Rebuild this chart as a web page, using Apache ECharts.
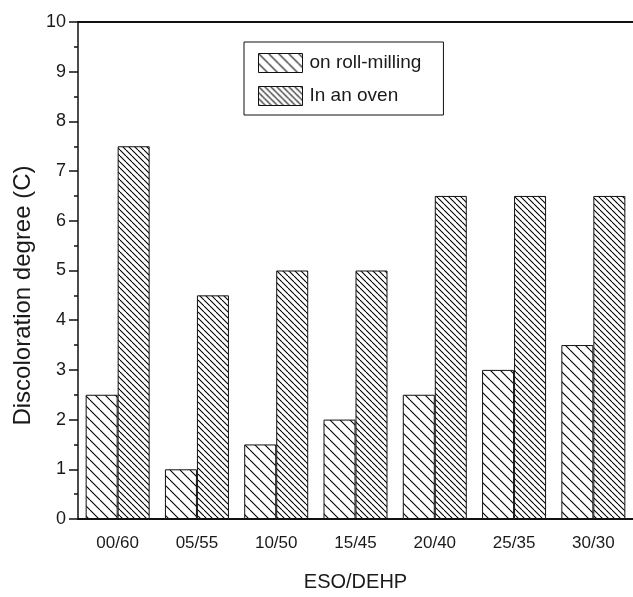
<!DOCTYPE html>
<html>
<head>
<meta charset="utf-8">
<script src="https://cdn.jsdelivr.net/npm/echarts@6/dist/echarts.min.js"></script>
<style>
  html, body { margin: 0; padding: 0; background: #fff; }
  #chart { width: 633px; height: 597px; }
</style>
</head>
<body>
<div id="chart"></div>
<script>
// ESO/DEHP ratios and discoloration degree for the two processing methods
const categories = ['00/60', '05/55', '10/50', '15/45', '20/40', '25/35', '30/30'];
const rollMilling = [2.5, 1, 1.5, 2, 2.5, 3, 3.5];
const inOven = [7.5, 4.5, 5, 5, 6.5, 6.5, 6.5];
const seriesNames = ['on roll-milling', 'In an oven'];

// Diagonal "\" hatch tile used as a repeating fill
function hatch(w, h) {
  const c = document.createElement('canvas');
  c.width = w; c.height = h;
  const g = c.getContext('2d');
  g.fillStyle = '#fff';
  g.fillRect(0, 0, w, h);
  g.strokeStyle = '#000';
  g.lineWidth = 1.1;
  for (let k = -1; k <= 1; k++) {
    g.beginPath();
    g.moveTo(k * w, 0);
    g.lineTo(k * w + w, h);
    g.stroke();
  }
  return c;
}

const font = '"Liberation Sans", Arial, Helvetica, sans-serif';
const ink = '#1a1a1a';

const chart = echarts.init(document.getElementById('chart'), null, { renderer: 'canvas' });
chart.setOption({
  backgroundColor: '#fff',
  animation: false,
  textStyle: { fontFamily: font, color: ink },
  grid: { left: 78, top: 22, bottom: 74, width: 560, containLabel: false },
  legend: {
    orient: 'vertical',
    left: 244,
    top: 42,
    data: seriesNames,
    icon: 'rect',
    itemWidth: 44,
    itemHeight: 19,
    itemGap: 13,
    padding: [11, 22, 9, 14],
    borderColor: '#111',
    borderWidth: 1,
    itemStyle: { borderColor: '#111', borderWidth: 1 },
    textStyle: { fontFamily: font, fontSize: 19, color: ink, padding: [0, 0, 0, 2] }
  },
  xAxis: [
    {
      type: 'category',
      data: categories,
      position: 'bottom',
      axisLine: { lineStyle: { color: '#111', width: 2 } },
      axisTick: { alignWithLabel: true, length: 11, lineStyle: { color: '#111', width: 1.5 } },
      axisLabel: { fontFamily: font, fontSize: 17, color: ink, margin: 16 },
      name: 'ESO/DEHP',
      nameLocation: 'middle',
      nameGap: 53,
      nameTextStyle: { fontFamily: font, fontSize: 20, color: ink }
    },
    {
      type: 'category',
      data: categories,
      position: 'top',
      axisLine: { lineStyle: { color: '#111', width: 2 } },
      axisTick: { show: false },
      axisLabel: { show: false }
    }
  ],
  yAxis: {
    type: 'value',
    min: 0,
    max: 10,
    interval: 1,
    axisLine: { show: true, lineStyle: { color: '#111', width: 1.5 } },
    axisTick: { show: true, length: 9, lineStyle: { color: '#111', width: 1.5 } },
    minorTick: { show: true, splitNumber: 2, length: 4, lineStyle: { color: '#111', width: 1.5 } },
    splitLine: { show: false },
    axisLabel: { fontFamily: font, fontSize: 18, color: ink, margin: 12 },
    name: 'Discoloration degree (C)',
    nameLocation: 'middle',
    nameGap: 42,
    nameTextStyle: { fontFamily: font, fontSize: 24, color: ink, padding: [0, 50, 0, 0] }
  },
  series: [
    {
      name: seriesNames[0],
      type: 'bar',
      data: rollMilling,
      barWidth: 32,
      barGap: '0%',
      itemStyle: {
        color: { image: hatch(10, 10), repeat: 'repeat' },
        borderColor: '#111',
        borderWidth: 1
      }
    },
    {
      name: seriesNames[1],
      type: 'bar',
      data: inOven,
      barWidth: 32,
      barGap: '0%',
      itemStyle: {
        color: { image: hatch(6, 6), repeat: 'repeat' },
        borderColor: '#111',
        borderWidth: 1
      }
    }
  ]
});
</script>
</body>
</html>
